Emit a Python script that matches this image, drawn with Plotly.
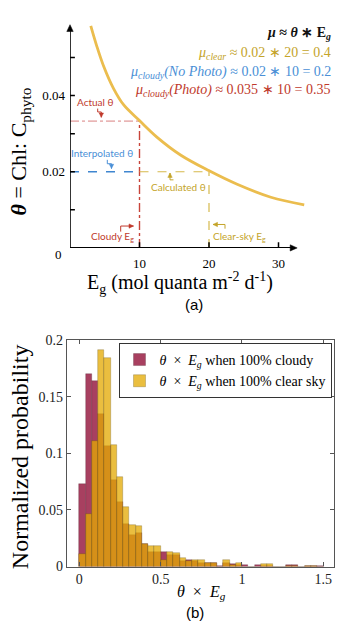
import plotly.graph_objects as go

# ---------------- panel (a) data ----------------
curve_E = [2.99, 3.85, 4.8, 6.25, 7.7, 9.96, 12.5, 15.9, 19.96, 24.05, 28.9, 33.7]
curve_theta = [0.0583, 0.0530, 0.0479, 0.0419, 0.0376, 0.0335, 0.0291, 0.0244,
               0.0203, 0.0167, 0.0133, 0.0113]
cloudy_Eg = 10
clear_Eg = 20
theta_actual = 0.0333
theta_interp = 0.02
a_xticks = [10, 20, 30]
a_xticklabels = ["10", "20", "30"]
a_yticks = [0.01, 0.02, 0.03, 0.04, 0.05]
a_ylabel_vals = [0.02, 0.04]
a_ylabel_text = ["0.02", "0.04"]
a_x_end = 32.4
a_y_end = 0.0581

# ---------------- panel (b) data ----------------
bin_start = 0.0
bin_width = 0.0385
cloudy_prob = [0.073, 0.170, 0.164, 0.135, 0.106, 0.076, 0.057, 0.038, 0.028, 0.030,
               0.020, 0.013, 0.013, 0.013, 0.010, 0.010, 0.005, 0.0055, 0.005, 0.003,
               0.0035, 0.0035, 0.0005, 0.0035, 0.002, 0.001, 0.0012, 0.0, 0.001, 0.0005,
               0.0005, 0.0, 0.0, 0.0012, 0.0012, 0.0, 0.0008, 0.0008, 0.0005]
clear_prob = [0.011, 0.046, 0.111, 0.191, 0.184, 0.107, 0.079, 0.053, 0.037, 0.036,
              0.0195, 0.018, 0.018, 0.006, 0.013, 0.012, 0.008, 0.0045, 0.0055, 0.0055,
              0.0035, 0.0035, 0.0, 0.006, 0.001, 0.0033, 0.0, 0.0, 0.0, 0.0025,
              0.0025, 0.0, 0.0, 0.0008, 0.0005, 0.0, 0.0005, 0.0005, 0.0]
b_xticks = [0, 0.5, 1, 1.5]
b_xticklabels = ["0", "0.5", "1", "1.5"]
b_yticks = [0, 0.05, 0.1, 0.15, 0.2]
b_yticklabels = ["0", "0.05", "0.1", "0.15", "0.2"]

W, H = 344, 640
SERIF = "Liberation Serif"
SANS = "Lato"
RED = "#c0392b"
BLUE = "#4a8fd6"
GOLD = "#c4a42a"
CURVE = "#ebbd4e"

# panel (a) pixel geometry
A_X0, A_XSCALE = 70.0, 6.95      # px at E=0, px per unit E
A_Y0, A_YSCALE = 246.7, 3900.0   # px at theta=0, px per unit theta


def px(x):
    return x / W


def py(y):
    return 1 - y / H


def a_px(E):
    return A_X0 + E * A_XSCALE


def a_py(t):
    return A_Y0 - t * A_YSCALE


fig = go.Figure()

# ---- panel (a) guide lines ----
fig.add_trace(go.Scatter(x=[0, cloudy_Eg], y=[theta_actual, theta_actual], mode="lines",
                         line=dict(color="#d98080", width=1, dash="dashdot"),
                         xaxis="x", yaxis="y", showlegend=False, hoverinfo="skip"))
fig.add_trace(go.Scatter(x=[cloudy_Eg, cloudy_Eg], y=[0, theta_actual], mode="lines",
                         line=dict(color="#c8443a", width=1.4, dash="dashdot"),
                         xaxis="x", yaxis="y", showlegend=False, hoverinfo="skip"))
fig.add_trace(go.Scatter(x=[0, cloudy_Eg], y=[theta_interp, theta_interp], mode="lines",
                         line=dict(color="#3f86d0", width=1.5, dash="dash"),
                         xaxis="x", yaxis="y", showlegend=False, hoverinfo="skip"))
fig.add_trace(go.Scatter(x=[cloudy_Eg, clear_Eg], y=[theta_interp, theta_interp], mode="lines",
                         line=dict(color="#d6b94c", width=1.2, dash="dash"),
                         xaxis="x", yaxis="y", showlegend=False, hoverinfo="skip"))
fig.add_trace(go.Scatter(x=[clear_Eg, clear_Eg], y=[0, theta_interp], mode="lines",
                         line=dict(color="#d6b94c", width=1.2, dash="dash"),
                         xaxis="x", yaxis="y", showlegend=False, hoverinfo="skip"))
# curve
fig.add_trace(go.Scatter(x=curve_E, y=curve_theta, mode="lines",
                         line=dict(color=CURVE, width=2.8, shape="spline"),
                         xaxis="x", yaxis="y", showlegend=False, hoverinfo="skip"))
# tick marks crossing the axes
fig.add_trace(go.Scatter(x=a_xticks, y=[0] * len(a_xticks), mode="markers",
                         marker=dict(symbol="line-ns", size=8, line=dict(width=1.5, color="black")),
                         xaxis="x", yaxis="y", showlegend=False, hoverinfo="skip"))
fig.add_trace(go.Scatter(x=[0] * len(a_yticks), y=a_yticks, mode="markers",
                         marker=dict(symbol="line-ew", size=7, line=dict(width=1.5, color="black")),
                         xaxis="x", yaxis="y", showlegend=False, hoverinfo="skip"))

# ---- panel (b) histograms ----
edges = [bin_start + i * bin_width for i in range(len(cloudy_prob))]
fig.add_trace(go.Bar(x=edges, y=cloudy_prob, width=bin_width, offset=0,
                     marker=dict(color="rgb(168,64,96)",
                                 line=dict(width=0.6, color="rgba(70,30,40,0.45)")),
                     name="<i>θ</i>  ×  <i>E<sub>g</sub></i> when 100% cloudy",
                     xaxis="x2", yaxis="y2"))
fig.add_trace(go.Bar(x=edges, y=clear_prob, width=bin_width, offset=0,
                     marker=dict(color="rgba(228,170,2,0.76)",
                                 line=dict(width=0.6, color="rgba(90,70,20,0.45)")),
                     name="<i>θ</i>  ×  <i>E<sub>g</sub></i> when 100% clear sky",
                     xaxis="x2", yaxis="y2"))

annotations = []
shapes = []


def arrowhead(x0, y0, x1, y1, col, length=4.5, half=2.2):
    """filled triangle (pixel coords) with tip at (x1, y1) pointing from (x0, y0)"""
    dx, dy = x1 - x0, y1 - y0
    n = (dx * dx + dy * dy) ** 0.5
    ux, uy = dx / n, dy / n
    bx, by = x1 - ux * length, y1 - uy * length
    pts = [(x1, y1), (bx - uy * half, by + ux * half), (bx + uy * half, by - ux * half)]
    path = "M " + " L ".join(f"{px(a):.5f},{py(b):.5f}" for a, b in pts) + " Z"
    shapes.append(dict(type="path", path=path, xref="paper", yref="paper",
                       fillcolor=col, line=dict(color=col, width=0.5)))


# axis lines with arrowheads, panel (a)
shapes.append(dict(type="line", x0=0, y0=0, x1=0, y1=a_y_end, xref="x", yref="y",
                   line=dict(color="black", width=1.6)))
shapes.append(dict(type="line", x0=0, y0=0, x1=a_x_end, y1=0, xref="x", yref="y",
                   line=dict(color="black", width=1.6)))
arrowhead(a_px(0), a_py(0), a_px(0), a_py(a_y_end) - 2, "black", length=7, half=3.2)
arrowhead(a_px(0), a_py(0), a_px(a_x_end) + 2, a_py(0), "black", length=7, half=3.2)

annotations.append(dict(x=px(64), y=py(253), xref="paper", yref="paper", text="0",
                        showarrow=False, xanchor="right", yanchor="middle",
                        font=dict(family=SERIF, size=13, color="black")))

# axis titles panel (a)
annotations.append(dict(x=px(20), y=py(148), xref="paper", yref="paper",
                        text="<b><i>θ</i></b> = Chl: C<sub>phyto</sub>", textangle=-90,
                        showarrow=False, xanchor="center", yanchor="middle",
                        font=dict(family=SERIF, size=22, color="black")))
annotations.append(dict(x=px(180), y=py(283), xref="paper", yref="paper",
                        text="E<sub>g</sub> (mol quanta m<sup>-2</sup> d<sup>-1</sup>)",
                        showarrow=False, xanchor="center", yanchor="middle",
                        font=dict(family=SERIF, size=20, color="black")))
annotations.append(dict(x=px(194), y=py(305), xref="paper", yref="paper", text="(a)",
                        showarrow=False, xanchor="center", yanchor="middle",
                        font=dict(family="Liberation Sans", size=15, color="black")))

# equations
eqs = [
    ("<b><i>μ</i> ≈ <i>θ</i> ∗ E<sub><i>g</i></sub></b>", "#111111", 26.7),
    ("<i>μ<sub>clear</sub></i> ≈ 0.02 ∗ 20 = 0.4", GOLD, 47.7),
    ("<i>μ<sub>cloudy</sub>(No Photo)</i> ≈ 0.02 ∗ 10 = 0.2", BLUE, 66.7),
    ("<i>μ<sub>cloudy</sub>(Photo)</i> ≈ 0.035 ∗ 10 = 0.35", RED, 86),
]
for txt, col, yy in eqs:
    annotations.append(dict(x=px(333), y=py(yy), xref="paper", yref="paper", text=txt,
                            showarrow=False, xanchor="right", yanchor="middle",
                            font=dict(family=SERIF, size=14, color=col)))

# small labels
labels = [
    ("Actual θ", RED, 94.7, 97.3),
    ("Interpolated θ", BLUE, 102.5, 150),
    ("Calculated θ", GOLD, 178, 184),
    ("Cloudy E<sub>g</sub>", RED, 113, 235),
    ("Clear-sky E<sub>g</sub>", GOLD, 239.7, 235),
]
for txt, col, xx, yy in labels:
    annotations.append(dict(x=px(xx), y=py(yy), xref="paper", yref="paper", text=txt,
                            showarrow=False, xanchor="center", yanchor="middle",
                            font=dict(family=SANS, size=10, color=col)))

# bent pointer arrows (pixel coords)
bents = [
    ([(97.7, 104), (97.7, 107.5), (101.3, 107.5), (101.3, 113)], RED),
    ([(107.3, 156.5), (107.3, 160.5), (111.5, 160.5), (111.5, 165.5)], BLUE),
    ([(173.5, 177), (170, 177), (170, 170)], GOLD),
    ([(120.7, 230), (120.7, 224.3), (133.5, 224.3)], RED),
    ([(225, 227), (225, 222.7), (213, 222.7)], GOLD),
]
for pts, col in bents:
    path = "M " + " L ".join(f"{px(a):.5f},{py(b):.5f}" for a, b in pts)
    shapes.append(dict(type="path", path=path, xref="paper", yref="paper",
                       line=dict(color=col, width=1)))
    (x0, y0), (x1, y1) = pts[-2], pts[-1]
    arrowhead(x0, y0, x1, y1, col)

# panel (b) titles
annotations.append(dict(x=px(20), y=py(461), xref="paper", yref="paper",
                        text="Normalized probability", textangle=-90,
                        showarrow=False, xanchor="center", yanchor="middle",
                        font=dict(family=SERIF, size=24, color="black")))
annotations.append(dict(x=px(201), y=py(600), xref="paper", yref="paper",
                        text="<i>θ</i>  ×  <i>E<sub>g</sub></i>",
                        showarrow=False, xanchor="center", yanchor="middle",
                        font=dict(family=SERIF, size=16, color="black")))
annotations.append(dict(x=px(195), y=py(620), xref="paper", yref="paper", text="(b)",
                        showarrow=False, xanchor="center", yanchor="middle",
                        font=dict(family="Liberation Sans", size=15, color="black")))

axis_b = dict(showline=True, linecolor="#555555", linewidth=1.2, mirror="ticks",
              ticks="inside", ticklen=4, tickcolor="#555555", tickwidth=1,
              showgrid=False, zeroline=False,
              tickfont=dict(family=SERIF, size=14, color="#222222"))

fig.update_layout(
    width=W, height=H, margin=dict(l=0, r=0, t=0, b=0),
    paper_bgcolor="white", plot_bgcolor="white",
    barmode="overlay", bargap=0,
    xaxis=dict(domain=[px(A_X0), px(a_px(34))], range=[0, 34],
               showline=False, showgrid=False, zeroline=False,
               tickvals=a_xticks, ticktext=a_xticklabels, ticks="",
               ticklabelstandoff=6,
               tickfont=dict(family=SERIF, size=13, color="black"), anchor="y"),
    yaxis=dict(domain=[py(A_Y0), py(a_py(0.06))], range=[0, 0.06],
               showline=False, showgrid=False, zeroline=False,
               tickvals=a_ylabel_vals, ticktext=a_ylabel_text, ticks="",
               ticklabelstandoff=4,
               tickfont=dict(family=SERIF, size=13, color="black"), anchor="x"),
    xaxis2=dict(domain=[px(67), px(334)], range=[-0.0756, 1.5658],
                tickvals=b_xticks, ticktext=b_xticklabels, anchor="y2", **axis_b),
    yaxis2=dict(domain=[py(573), py(341)], range=[0, 0.2],
                tickvals=b_yticks, ticktext=b_yticklabels, anchor="x2", **axis_b),
    legend=dict(x=px(331.5), y=py(344), xanchor="right", yanchor="top",
                bgcolor="white", bordercolor="#333333", borderwidth=1,
                font=dict(family=SERIF, size=14, color="black"),
                itemwidth=30, tracegroupgap=0),
    annotations=annotations, shapes=shapes,
)

fig.write_html("out.html")
